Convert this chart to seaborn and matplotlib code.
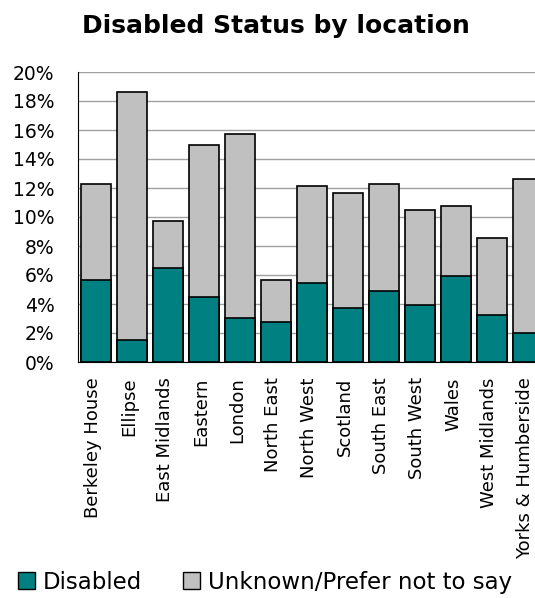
import pandas as pd
import numpy as np
import matplotlib
matplotlib.use('Agg')
import matplotlib.pyplot as plt
import matplotlib.transforms as mtransforms
import seaborn as sns
from matplotlib.ticker import PercentFormatter, FixedLocator
from matplotlib.patches import Patch

sns.set_style("white")
plt.rcParams['font.family'] = ['DejaVu Sans']
plt.rcParams['text.color'] = 'black'
plt.rcParams['xtick.color'] = 'black'
plt.rcParams['ytick.color'] = 'black'

# 数据 (百分比)
locations = ['Berkeley House', 'Ellipse', 'East Midlands', 'Eastern', 'London',
             'North East', 'North West', 'Scotland', 'South East', 'South West',
             'Wales', 'West Midlands', 'Yorks & Humberside']
disabled = [5.68, 1.52, 6.48, 4.50, 3.03, 2.78, 5.45, 3.72, 4.87, 3.93, 5.91, 3.24, 1.98]
unknown = [6.58, 17.08, 3.22, 10.50, 12.67, 2.90, 6.69, 7.96, 7.39, 6.57, 4.85, 5.31, 10.62]

df = pd.DataFrame({'Location': locations, 'Disabled': disabled, 'Unknown': unknown})
df['Total'] = df['Disabled'] + df['Unknown']

TEAL = '#008080'
GREY = '#c0c0c0'

fig = plt.figure(figsize=(5.35, 5.98), dpi=100)
ax = fig.add_axes([78 / 535, 1 - 362 / 598, 468 / 535, 290 / 598])

# 先画总高度 (灰色)，再叠加残疾部分 (青色)
sns.barplot(data=df, x='Location', y='Total', color=GREY, edgecolor='black',
            linewidth=1.2, width=0.83, saturation=1, ax=ax, zorder=3)
sns.barplot(data=df, x='Location', y='Disabled', color=TEAL, edgecolor='black',
            linewidth=1.2, width=0.83, saturation=1, ax=ax, zorder=4)

ax.set_ylim(0, 20)
ax.set_xlim(-0.5, len(locations) - 0.5)
ax.set_yticks(np.arange(0, 21, 2))
ax.yaxis.set_major_formatter(PercentFormatter(decimals=0))
ax.grid(axis='y', color='#a0a0a0', linewidth=1.0, zorder=0)
ax.set_axisbelow(True)

ax.set_xlabel('')
ax.set_ylabel('')
ax.tick_params(axis='x', which='major', length=0, labelsize=13, labelrotation=90, pad=11)
ax.xaxis.set_minor_locator(FixedLocator(np.arange(-0.5, len(locations), 1)))
ax.tick_params(axis='x', which='minor', length=6, width=1, color='#444444', direction='out')
ax.tick_params(axis='y', length=7, width=1, color='#444444', direction='out', labelsize=13.5, pad=10)

# x 标签稍微左移
shift = mtransforms.ScaledTranslation(-3 / 100, 0, fig.dpi_scale_trans)
for lbl in ax.get_xticklabels():
    lbl.set_transform(lbl.get_transform() + shift)

sns.despine(ax=ax, top=True, right=True)
ax.spines['left'].set_color('black')
ax.spines['bottom'].set_color('black')

fig.text(0.516, 0.957, 'Disabled Status by location', ha='center', va='center',
         fontsize=18, fontweight='bold')

handles = [Patch(facecolor=TEAL, edgecolor='black', label='Disabled'),
           Patch(facecolor=GREY, edgecolor='black', label='Unknown/Prefer not to say')]
fig.legend(handles=handles, loc='lower left', bbox_to_anchor=(0.016, -0.008), ncol=2,
           frameon=False, fontsize=16.5, handlelength=0.74, handleheight=0.74,
           handletextpad=0.35, columnspacing=1.8, borderaxespad=0)

fig.savefig('out.png', dpi=100)
